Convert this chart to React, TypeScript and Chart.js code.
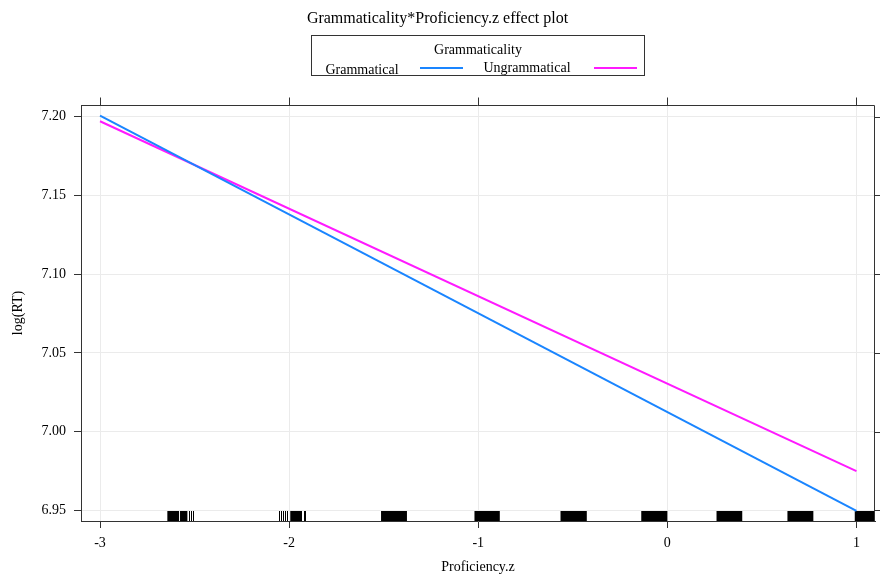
import React, { useEffect, useRef } from 'react';
import { Chart, registerables } from 'chart.js';

Chart.register(...registerables);

const chartTitle = 'Grammaticality*Proficiency.z effect plot';
const legendTitle = 'Grammaticality';
const seriesNames = ['Grammatical', 'Ungrammatical'];
const seriesColors = ['#1a85ff', '#ff1aff'];
const proficiencyZ = [-3, 1];
const grammaticalLogRT = [7.2005, 6.9497];
const ungrammaticalLogRT = [7.197, 6.975];
const xTickValues = [-3, -2, -1, 0, 1];
const yTickValues = [6.95, 7.0, 7.05, 7.1, 7.15, 7.2];
const xRange = [-3.1006, 1.098];
const yRange = [6.9433, 7.2073];
const xAxisLabel = 'Proficiency.z';
const yAxisLabel = 'log(RT)';
// rug: dense ranges of observed Proficiency.z values, and isolated values
const rugBlocks: [number, number][] = [
  [-2.644, -2.582], [-2.577, -2.538], [-1.994, -1.932], [-1.514, -1.377],
  [-1.02, -0.886], [-0.565, -0.426], [-0.138, 0.0], [0.26, 0.396],
  [0.635, 0.772], [0.991, 1.1],
];
const rugLines = [-2.527, -2.52, -2.509, -2.051, -2.042, -2.03, -2.021, -2.012, -1.924, -1.915];

const FONT = "'Liberation Serif', 'Times New Roman', serif";

const framePlugin = {
  id: 'latticeFrame',
  beforeDatasetsDraw(chart: any) {
    const { ctx, chartArea } = chart;
    const xs = chart.scales.x;
    ctx.save();
    ctx.beginPath();
    ctx.rect(chartArea.left, chartArea.top, chartArea.right - chartArea.left, chartArea.bottom - chartArea.top);
    ctx.clip();
    ctx.fillStyle = '#000';
    const y0 = chartArea.bottom - 10;
    rugBlocks.forEach(([a, b]) => {
      const p1 = xs.getPixelForValue(a);
      const p2 = xs.getPixelForValue(b);
      ctx.fillRect(p1, y0, p2 - p1, 10);
    });
    ctx.strokeStyle = '#000';
    ctx.lineWidth = 1;
    rugLines.forEach((v) => {
      const p = Math.round(xs.getPixelForValue(v)) + 0.5;
      ctx.beginPath();
      ctx.moveTo(p, y0);
      ctx.lineTo(p, chartArea.bottom);
      ctx.stroke();
    });
    ctx.restore();
  },
  afterDraw(chart: any) {
    const { ctx, chartArea } = chart;
    const xs = chart.scales.x;
    const ys = chart.scales.y;
    ctx.save();
    ctx.strokeStyle = '#333';
    ctx.lineWidth = 1;
    const t = Math.round(chartArea.top) + 0.5;
    const r = Math.round(chartArea.right) - 0.5;
    ctx.beginPath();
    ctx.moveTo(chartArea.left, t);
    ctx.lineTo(r, t);
    ctx.lineTo(r, chartArea.bottom);
    ctx.stroke();
    xTickValues.forEach((v) => {
      const p = Math.round(xs.getPixelForValue(v)) + 0.5;
      ctx.beginPath();
      ctx.moveTo(p, t - 8);
      ctx.lineTo(p, t);
      ctx.stroke();
    });
    yTickValues.forEach((v) => {
      const p = Math.round(ys.getPixelForValue(v)) + 0.5;
      ctx.beginPath();
      ctx.moveTo(r, p);
      ctx.lineTo(r + 7, p);
      ctx.stroke();
    });

    // legend
    ctx.strokeStyle = '#333';
    ctx.strokeRect(311.5, 35.5, 333, 40);
    ctx.fillStyle = '#000';
    ctx.font = `14px ${FONT}`;
    ctx.textAlign = 'center';
    ctx.textBaseline = 'middle';
    ctx.fillText(legendTitle, 478, 50);
    const ds = chart.data.datasets;
    ctx.fillText(ds[0].label, 362, 70);
    ctx.fillText(ds[1].label, 527, 68);
    ctx.lineWidth = 2;
    ctx.strokeStyle = ds[0].borderColor;
    ctx.beginPath();
    ctx.moveTo(420, 68);
    ctx.lineTo(463, 68);
    ctx.stroke();
    ctx.strokeStyle = ds[1].borderColor;
    ctx.beginPath();
    ctx.moveTo(594, 68);
    ctx.lineTo(637, 68);
    ctx.stroke();
    ctx.restore();
  },
};

export default function App() {
  const ref = useRef<HTMLCanvasElement | null>(null);
  useEffect(() => {
    if (!ref.current) return;
    const series = [grammaticalLogRT, ungrammaticalLogRT];
    const chart = new Chart(ref.current, {
      type: 'line',
      data: {
        datasets: series.map((vals, i) => ({
          label: seriesNames[i],
          data: proficiencyZ.map((x, j) => ({ x, y: vals[j] })),
          borderColor: seriesColors[i],
          backgroundColor: seriesColors[i],
          borderWidth: 2,
          pointRadius: 0,
          tension: 0,
          fill: false,
        })),
      },
      options: {
        responsive: true,
        maintainAspectRatio: false,
        animation: false,
        layout: { padding: { top: 0, left: 0, right: 5, bottom: 0 } },
        plugins: {
          legend: { display: false },
          tooltip: { enabled: false },
          title: {
            display: true,
            text: chartTitle,
            color: '#000',
            font: { family: FONT, size: 16, weight: 'normal' },
            padding: { top: 9, bottom: 76.8 },
          },
        },
        scales: {
          x: {
            type: 'linear',
            min: xRange[0],
            max: xRange[1],
            afterBuildTicks: (s: any) => { s.ticks = xTickValues.map((v) => ({ value: v })); },
            afterFit: (s: any) => { s.height = 53; },
            grid: { color: '#ebebeb', tickColor: '#333', tickLength: 7, lineWidth: 1 },
            border: { color: '#333', width: 1 },
            ticks: { color: '#000', font: { family: FONT, size: 14 }, padding: 7, maxRotation: 0, callback: (v: any) => String(v) },
            title: { display: true, text: xAxisLabel, color: '#000', font: { family: FONT, size: 14 }, padding: { top: 0, bottom: -2 } },
          },
          y: {
            type: 'linear',
            min: yRange[0],
            max: yRange[1],
            afterBuildTicks: (s: any) => { s.ticks = yTickValues.map((v) => ({ value: v })); },
            afterFit: (s: any) => { s.width = 81; },
            grid: { color: '#ebebeb', tickColor: '#333', tickLength: 7, lineWidth: 1 },
            border: { color: '#333', width: 1 },
            ticks: { color: '#000', font: { family: FONT, size: 14 }, padding: 8, callback: (v: any) => Number(v).toFixed(2) },
            title: { display: true, text: yAxisLabel, color: '#000', font: { family: FONT, size: 14 }, padding: { top: 10, bottom: 0 } },
          },
        },
      },
      plugins: [framePlugin],
    } as any);
    return () => chart.destroy();
  }, []);
  return (
    <div style={{ position: 'absolute', left: 0, top: 0, width: 880, height: 574 }}>
      <canvas ref={ref} />
    </div>
  );
}
